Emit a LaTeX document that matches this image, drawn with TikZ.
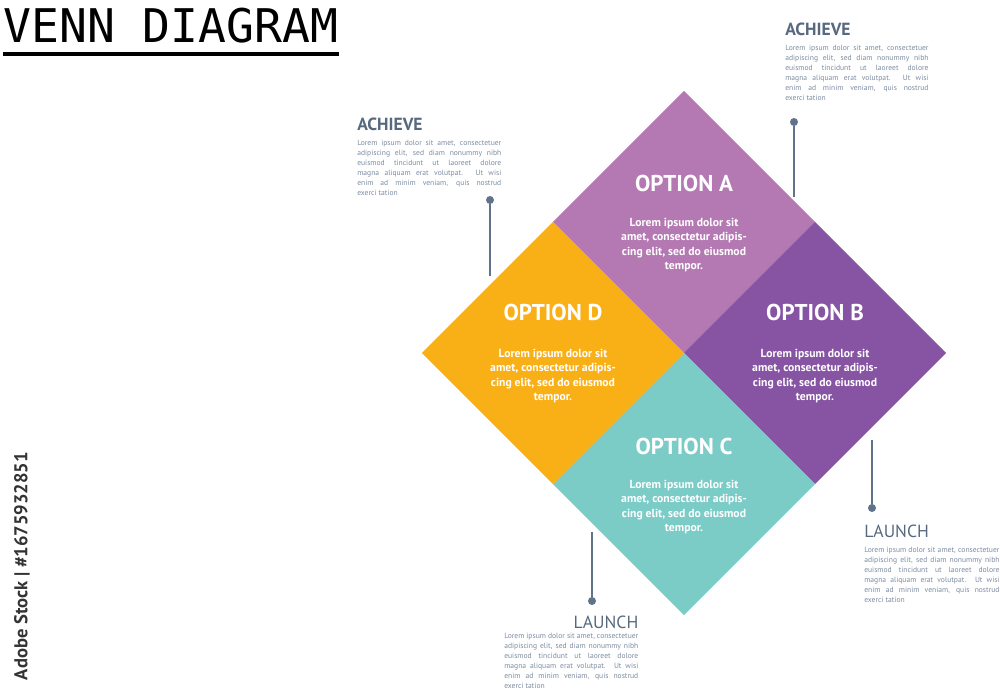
\documentclass[tikz,border=0pt]{standalone}
\usepackage{fontspec}
\setmainfont{PT Sans}
\newfontfamily\titlefont{DejaVu Sans Mono}
\usetikzlibrary{positioning,shapes.geometric}
\definecolor{vdpink}{HTML}{B479B3}
\definecolor{vdpurple}{HTML}{8654A3}
\definecolor{vdteal}{HTML}{7BCCC6}
\definecolor{vdyellow}{HTML}{F9B017}
\definecolor{vdslate}{HTML}{56697F}
\definecolor{vdtext}{HTML}{7B8BA1}
\definecolor{vdstem}{HTML}{61738A}
\newcommand{\sqtext}{Lorem ipsum dolor sit\\amet, consectetur adipis-\\cing elit, sed do eiusmod\\tempor.}
\newcommand{\infotext}{Lorem ipsum dolor sit amet, consectetuer\linebreak adipiscing elit, sed diam nonummy nibh\linebreak euismod tincidunt ut laoreet dolore\linebreak magna aliquam erat volutpat. Ut wisi\linebreak enim ad minim veniam, quis nostrud\linebreak exerci tation}

\begin{document}
\begin{tikzpicture}[
  x=0.025cm, y=-0.025cm,
  sq/.style={diamond, aspect=1, inner sep=0pt, outer sep=0pt, minimum width=6.55cm, minimum height=6.55cm, fill=#1},
  head/.style={text=white, inner sep=0pt, font=\fontsize{16.3}{19}\selectfont\bfseries},
  sqbody/.style={text=white, inner sep=0pt, align=center, font=\fontsize{8.3}{10}\selectfont\bfseries},
  info/.style={text=vdtext, inner sep=0pt, align=justify, text width=#1, font=\fontsize{5.4}{7.1}\selectfont},
  lbl/.style={text=vdslate, inner sep=0pt, font=\fontsize{12.5}{15}\selectfont\bfseries},
  pin/.style={circle, fill=vdstem, inner sep=0pt, minimum size=0.2cm},
  stem/.style={draw=vdstem, line width=1.3pt}
]
\useasboundingbox (0,0) rectangle (1000,695);
% title
\node[anchor=base west, inner sep=0pt, font=\titlefont\fontsize{33}{36}\selectfont] (ttl) at (3,43) {VENN DIAGRAM};
\draw[line width=2.2pt] ([yshift=-7.8pt]ttl.base west) -- ([yshift=-7.8pt]ttl.base east);
\node[rotate=90, text=black!80, font=\fontsize{13.2}{15}\selectfont\bfseries] (stock) at (22,566) {Adobe Stock | \#1675932851};
% the four squares
\node[sq=vdpink] (sqA) at (684,222) {};
\node[sq=vdpurple] (sqB) at (815,353) {};
\node[sq=vdteal] (sqC) at (684,484) {};
\node[sq=vdyellow] (sqD) at (553,353) {};
\node[head, yshift=9.75mm] (hA) at (sqA.center) {OPTION A};
\node[head, yshift=10.25mm] (hB) at (sqB.center) {OPTION B};
\node[head, yshift=9.5mm] (hC) at (sqC.center) {OPTION C};
\node[head, yshift=10.25mm] (hD) at (sqD.center) {OPTION D};
\node[sqbody, yshift=-5.75mm] (tA) at (sqA.center) {\sqtext};
\node[sqbody, yshift=-5.75mm] (tB) at (sqB.center) {\sqtext};
\node[sqbody, yshift=-5.75mm] (tC) at (sqC.center) {\sqtext};
\node[sqbody, yshift=-5.75mm] (tD) at (sqD.center) {\sqtext};
% side notes
\node[info=3.6cm, anchor=north west] (nL) at (357,140) {\infotext};
\node[lbl, above=2.2mm of nL.north west, anchor=south west] (lL) {ACHIEVE};
\node[info=3.58cm, anchor=north west] (nA) at (785,45) {\infotext};
\node[lbl, above=2.2mm of nA.north west, anchor=south west] (lA) {ACHIEVE};
\node[info=3.38cm, anchor=north west] (nB) at (864,547) {\infotext};
\node[lbl, font=\fontsize{12.5}{15}\selectfont, above=2.2mm of nB.north west, anchor=south west] (lB) {LAUNCH};
\node[info=3.35cm, anchor=north west] (nC) at (504,633) {\infotext};
\node[lbl, font=\fontsize{12.5}{15}\selectfont, above=1mm of nC.north east, anchor=south east] (lC) {LAUNCH};
% pins
\node[pin] (pL) at (490,200) {};
\node[pin] (pA) at (794,122) {};
\node[pin] (pB) at (872,508) {};
\node[pin] (pC) at (592,601) {};
\coordinate (eL) at (490,276);
\coordinate (eA) at (794,197);
\coordinate (eB) at (872,440);
\coordinate (eC) at (592,532);
\draw[stem] (pL) -- (eL);
\draw[stem] (pA) -- (eA);
\draw[stem] (pB) -- (eB);
\draw[stem] (pC) -- (eC);
\end{tikzpicture}
\end{document}
